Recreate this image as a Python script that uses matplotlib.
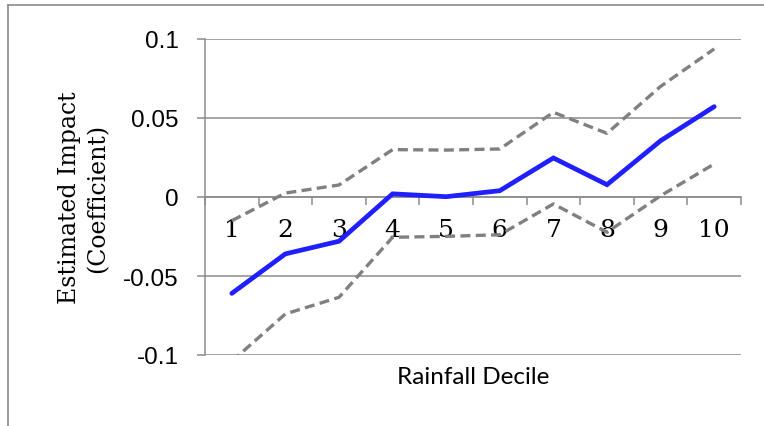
import matplotlib
matplotlib.use("Agg")
import matplotlib.pyplot as plt
from matplotlib.lines import Line2D

deciles = ["1", "2", "3", "4", "5", "6", "7", "8", "9", "10"]
estimate = [-0.061, -0.036, -0.028, 0.002, 0.0002, 0.004, 0.0247, 0.0078, 0.0356, 0.0572]
upper_ci = [-0.015, 0.0025, 0.0076, 0.030, 0.0297, 0.0304, 0.0536, 0.0403, 0.070, 0.0937]
lower_ci = [-0.104, -0.074, -0.0635, -0.0255, -0.0249, -0.0239, -0.0044, -0.0223, 0.0008, 0.0209]
yticks = [-0.1, -0.05, 0, 0.05, 0.1]
ytick_labels = ["-0.1", "-0.05", "0", "0.05", "0.1"]

W, H = 764, 427
fig = plt.figure(figsize=(W / 100, H / 100), dpi=100)
fig.patch.set_facecolor("white")

# outer chart border
border = "#8a8a8a"
fig.add_artist(Line2D([8 / W, 8 / W], [0, 1 - 6 / H], transform=fig.transFigure, color=border, lw=1.2))
fig.add_artist(Line2D([8 / W, 1], [1 - 6 / H, 1 - 6 / H], transform=fig.transFigure, color=border, lw=1.2))

left, right, top, bottom = 205, 741, 40, 356
ax = fig.add_axes([left / W, 1 - bottom / H, (right - left) / W, (bottom - top) / H])

x = list(range(1, len(deciles) + 1))
grid_c = "#8c8c8c"
ax.set_xlim(0.5, len(deciles) + 0.5)
ax.set_ylim(-0.1, 0.1)

dash = (0, (3.0, 1.6))
ax.plot(x, upper_ci, color="#808080", lw=2.4, ls=dash, zorder=3)
ax.plot(x, lower_ci, color="#808080", lw=2.4, ls=dash, zorder=3)
ax.plot(x, estimate, color="#1f1fff", lw=3.4, zorder=4, solid_capstyle="round", solid_joinstyle="miter")

# gridlines
ax.set_yticks(yticks)
ax.set_yticklabels(ytick_labels, family="Liberation Sans", fontsize=17.5)
ax.yaxis.grid(True, color=grid_c, lw=1.1)
ax.set_axisbelow(True)
ax.tick_params(axis="y", direction="out", length=6, width=1.1, color=grid_c, pad=13)

for s in ["top", "right"]:
    ax.spines[s].set_visible(False)
ax.spines["left"].set_color(grid_c)
ax.spines["left"].set_linewidth(1.1)
ax.spines["bottom"].set_position(("data", 0))
ax.spines["bottom"].set_color(grid_c)
ax.spines["bottom"].set_linewidth(1.1)

bounds = [i + 0.5 for i in range(0, len(deciles) + 1)]
ax.set_xticks(bounds)
ax.set_xticklabels([""] * len(bounds))
ax.tick_params(axis="x", which="major", direction="out", length=6, width=1.1, color=grid_c)
ax.set_xticks(x, minor=True)
ax.set_xticklabels(deciles, minor=True, family="DejaVu Serif", fontsize=18)
ax.tick_params(axis="x", which="minor", length=0, pad=15)

ax.set_ylabel("Estimated Impact\n(Coefficient)", family="DejaVu Serif", fontsize=17, linespacing=1.3)
ax.yaxis.set_label_coords((109 - left) / (right - left), 0.5)

fig.text(473 / W, 1 - 378 / H, "Rainfall Decile", family="Lato", fontsize=17.5, ha="center", va="center")

fig.savefig("out.png", dpi=100)
